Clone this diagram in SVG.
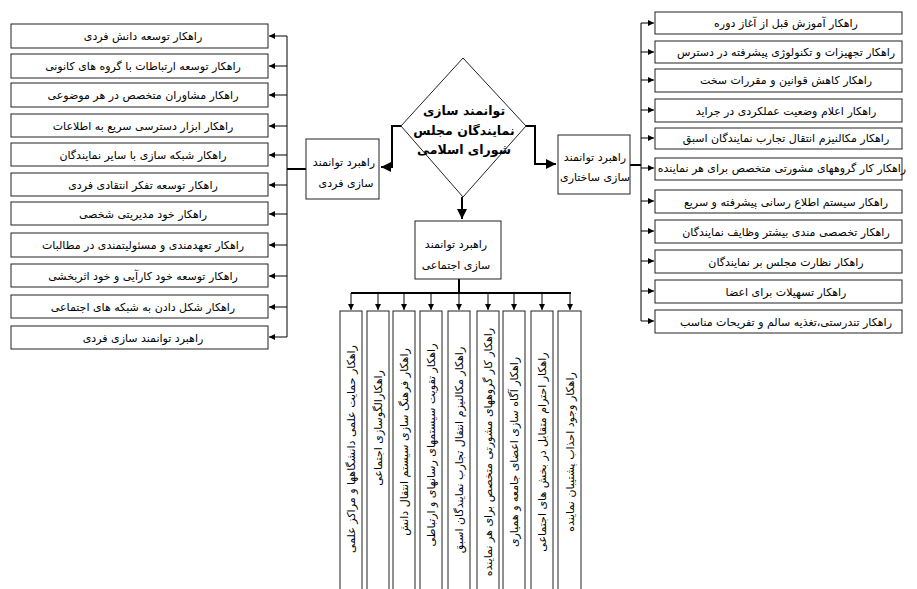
<svg xmlns="http://www.w3.org/2000/svg" width="917" height="589" viewBox="0 0 917 589">
<style>
text{font-family:"DejaVu Sans","Noto Sans",sans-serif;fill:#000}
.box{fill:#fff;stroke:#222;stroke-width:1}
.t{font-size:11px;text-anchor:middle}
.v{font-size:11px;text-anchor:middle;dominant-baseline:central}
.h{font-size:11px;text-anchor:middle}
.d{font-size:12.5px;font-weight:bold;text-anchor:middle}
.thin{fill:none;stroke:#000;stroke-width:1}
.thick{fill:none;stroke:#000;stroke-width:2}
</style>
<defs>
<marker id="sa" viewBox="0 0 10 10" refX="10" refY="5" markerWidth="7" markerHeight="6" markerUnits="userSpaceOnUse" orient="auto"><path d="M0,0L10,5L0,10z" fill="#000"/></marker>
<marker id="ba" viewBox="0 0 10 10" refX="10" refY="5" markerWidth="10" markerHeight="10" markerUnits="userSpaceOnUse" orient="auto"><path d="M0,0L10,5L0,10z" fill="#000"/></marker>
</defs>
<rect width="917" height="589" fill="#fff"/>

<g id="connectors">
<path class="thick" d="M401,126H392V167H381" marker-end="url(#ba)"/>
<path class="thick" d="M526,126H535V164H556" marker-end="url(#ba)"/>
<path class="thick" d="M462,197V219" marker-end="url(#ba)"/>
<path class="thick" d="M306,169H287"/>
<path class="thin" d="M287,36V337"/>
<path class="thin" d="M287,36H269" marker-end="url(#sa)"/>
<path class="thin" d="M287,66H269" marker-end="url(#sa)"/>
<path class="thin" d="M287,95H269" marker-end="url(#sa)"/>
<path class="thin" d="M287,126H269" marker-end="url(#sa)"/>
<path class="thin" d="M287,155H269" marker-end="url(#sa)"/>
<path class="thin" d="M287,185H269" marker-end="url(#sa)"/>
<path class="thin" d="M287,214H269" marker-end="url(#sa)"/>
<path class="thin" d="M287,245H269" marker-end="url(#sa)"/>
<path class="thin" d="M287,276H269" marker-end="url(#sa)"/>
<path class="thin" d="M287,307H269" marker-end="url(#sa)"/>
<path class="thin" d="M287,337H269" marker-end="url(#sa)"/>
<path class="thick" d="M630,165H641"/>
<path class="thin" d="M641,23V321"/>
<path class="thin" d="M641,23H654" marker-end="url(#sa)"/>
<path class="thin" d="M641,52H654" marker-end="url(#sa)"/>
<path class="thin" d="M641,80H654" marker-end="url(#sa)"/>
<path class="thin" d="M641,110H654" marker-end="url(#sa)"/>
<path class="thin" d="M641,138H654" marker-end="url(#sa)"/>
<path class="thin" d="M641,168H654" marker-end="url(#sa)"/>
<path class="thin" d="M641,201H654" marker-end="url(#sa)"/>
<path class="thin" d="M641,231H654" marker-end="url(#sa)"/>
<path class="thin" d="M641,261H654" marker-end="url(#sa)"/>
<path class="thin" d="M641,291H654" marker-end="url(#sa)"/>
<path class="thin" d="M641,321H654" marker-end="url(#sa)"/>
<path class="thick" d="M459,279V293M351,293H571"/>
<path class="thin" d="M351,293V310" marker-end="url(#sa)"/>
<path class="thin" d="M378,293V310" marker-end="url(#sa)"/>
<path class="thin" d="M404,293V310" marker-end="url(#sa)"/>
<path class="thin" d="M431,293V310" marker-end="url(#sa)"/>
<path class="thin" d="M459,293V310" marker-end="url(#sa)"/>
<path class="thin" d="M488,293V310" marker-end="url(#sa)"/>
<path class="thin" d="M514,293V310" marker-end="url(#sa)"/>
<path class="thin" d="M542,293V310" marker-end="url(#sa)"/>
<path class="thin" d="M570,293V310" marker-end="url(#sa)"/>
</g>

<g id="center">
<path d="M463,58L526,126L463,197L401,126Z" fill="#fff" stroke="#222" stroke-width="1"/>
<text class="d" x="464" y="115">توانمند سازی</text>
<text class="d" x="464" y="135">نمایندگان مجلس</text>
<text class="d" x="464" y="154">شورای اسلامی</text>
</g>

<g id="s-fardi"><rect class="box" x="306" y="139" width="73" height="60"/>
<text class="h" x="344" y="166">راهبرد توانمند</text><text class="h" x="346" y="187">سازی فردی</text></g>
<g id="s-sakhtari"><rect class="box" x="558" y="135" width="72" height="59"/>
<text class="h" x="595" y="161">راهبرد توانمند</text><text class="h" x="595" y="181">سازی ساختاری</text></g>
<g id="s-ejtemaei"><rect class="box" x="415" y="221" width="86" height="58"/>
<text class="h" x="456" y="248">راهبرد توانمند</text><text class="h" x="456" y="269">سازی اجتماعی</text></g>

<g id="l1"><rect class="box" x="11" y="24" width="257" height="24"/><text class="t" x="143" y="40">راهکار توسعه دانش فردی</text></g>
<g id="l2"><rect class="box" x="11" y="54" width="257" height="24"/><text class="t" x="143" y="70">راهکار توسعه ارتباطات با گروه های کانونی</text></g>
<g id="l3"><rect class="box" x="11" y="83" width="257" height="24"/><text class="t" x="143" y="99">راهکار مشاوران متخصص در هر موضوعی</text></g>
<g id="l4"><rect class="box" x="11" y="114" width="257" height="23"/><text class="t" x="143" y="130">راهکار  ابزار  دسترسی سریع به اطلاعات</text></g>
<g id="l5"><rect class="box" x="11" y="143" width="257" height="23"/><text class="t" x="143" y="159">راهکار شبکه سازی با سایر نمایندگان</text></g>
<g id="l6"><rect class="box" x="11" y="173" width="257" height="23"/><text class="t" x="143" y="189">راهکار توسعه تفکر انتقادی فردی</text></g>
<g id="l7"><rect class="box" x="11" y="202" width="257" height="23"/><text class="t" x="143" y="218">راهکار  خود مدیریتی  شخصی</text></g>
<g id="l8"><rect class="box" x="11" y="233" width="257" height="24"/><text class="t" x="143" y="249">راهکار تعهدمندی و مسئولیتمندی در  مطالبات</text></g>
<g id="l9"><rect class="box" x="11" y="264" width="257" height="23"/><text class="t" x="143" y="280">راهکار توسعه خود کارآیی و خود اثربخشی</text></g>
<g id="l10"><rect class="box" x="11" y="295" width="257" height="23"/><text class="t" x="143" y="311">راهکار شکل دادن به شبکه های اجتماعی</text></g>
<g id="l11"><rect class="box" x="11" y="326" width="257" height="23"/><text class="t" x="143" y="342">راهبرد توانمند سازی فردی</text></g>

<g id="r1"><rect class="box" x="655" y="12" width="247" height="22"/><text class="t" x="786" y="27">راهکار آموزش قبل از آغاز دوره</text></g>
<g id="r2"><rect class="box" x="655" y="41" width="247" height="22"/><text class="t" x="786" y="56">راهکار تجهیزات و تکنولوژی پیشرفته در دسترس</text></g>
<g id="r3"><rect class="box" x="655" y="69" width="247" height="23"/><text class="t" x="786" y="84">راهکار کاهش قوانین و مقررات سخت</text></g>
<g id="r4"><rect class="box" x="655" y="99" width="247" height="23"/><text class="t" x="786" y="115">راهکار اعلام وضعیت عملکردی در جراید</text></g>
<g id="r5"><rect class="box" x="655" y="128" width="247" height="21"/><text class="t" x="786" y="142">راهکار مکالنیزم انتقال تجارب نمایندگان اسبق</text></g>
<g id="r6"><rect class="box" x="655" y="158" width="247" height="22"/><text class="t" x="782" y="172">راهکار کار گروههای مشورتی متخصص برای هر نماینده</text></g>
<g id="r7"><rect class="box" x="655" y="190" width="247" height="23"/><text class="t" x="786" y="206">راهکار   سیستم اطلاع رسانی پیشرفته و سریع</text></g>
<g id="r8"><rect class="box" x="655" y="220" width="247" height="23"/><text class="t" x="786" y="236">راهکار تخصصی مندی بیشتر  وظایف نمایندگان</text></g>
<g id="r9"><rect class="box" x="655" y="250" width="247" height="23"/><text class="t" x="786" y="266">راهکار نظارت مجلس بر نمایندگان</text></g>
<g id="r10"><rect class="box" x="655" y="280" width="247" height="23"/><text class="t" x="786" y="296">راهکار تسهیلات برای اعضا</text></g>
<g id="r11"><rect class="box" x="655" y="310" width="247" height="23"/><text class="t" x="786" y="326">راهکار تندرستی،تغذیه سالم و تفریحات مناسب</text></g>

<g id="b1"><rect class="box" x="340" y="311" width="22" height="290"/><text class="v" transform="translate(351,449) rotate(-90)">راهکار حمایت علمی دانشگاهها و مراکز علمی</text></g>
<g id="b2"><rect class="box" x="367" y="311" width="22" height="290"/><text class="v" transform="translate(378,428) rotate(-90)">راهکارالگوسازی اجتماعی</text></g>
<g id="b3"><rect class="box" x="393" y="311" width="22" height="290"/><text class="v" transform="translate(404,442) rotate(-90)">راهکار فرهنگ سازی سیستم  انتقال دانش</text></g>
<g id="b4"><rect class="box" x="420" y="311" width="22" height="290"/><text class="v" transform="translate(431,445) rotate(-90)">راهکار تقویت سیستمهای رسانهای و ارتباطی</text></g>
<g id="b5"><rect class="box" x="448" y="311" width="22" height="290"/><text class="v" transform="translate(459,450) rotate(-90)">راهکار مکالنیزم انتقال تجارب نمایندگان اسبق</text></g>
<g id="b6"><rect class="box" x="477" y="311" width="22" height="290"/><text class="v" transform="translate(488,452) rotate(-90)">راهکار کار گروههای مشورتی متخصص برای هر نماینده</text></g>
<g id="b7"><rect class="box" x="503" y="311" width="22" height="290"/><text class="v" transform="translate(514,452) rotate(-90)">راهکار آگاه سازی اعضای جامعه  و همیاری</text></g>
<g id="b8"><rect class="box" x="531" y="311" width="22" height="290"/><text class="v" transform="translate(542,452) rotate(-90)">راهکار احترام متقابل در بخش های اجتماعی</text></g>
<g id="b9"><rect class="box" x="558" y="311" width="23" height="290"/><text class="v" transform="translate(570,452) rotate(-90)">راهکار وجود احذاب پشتیبان نماینده</text></g>
</svg>
